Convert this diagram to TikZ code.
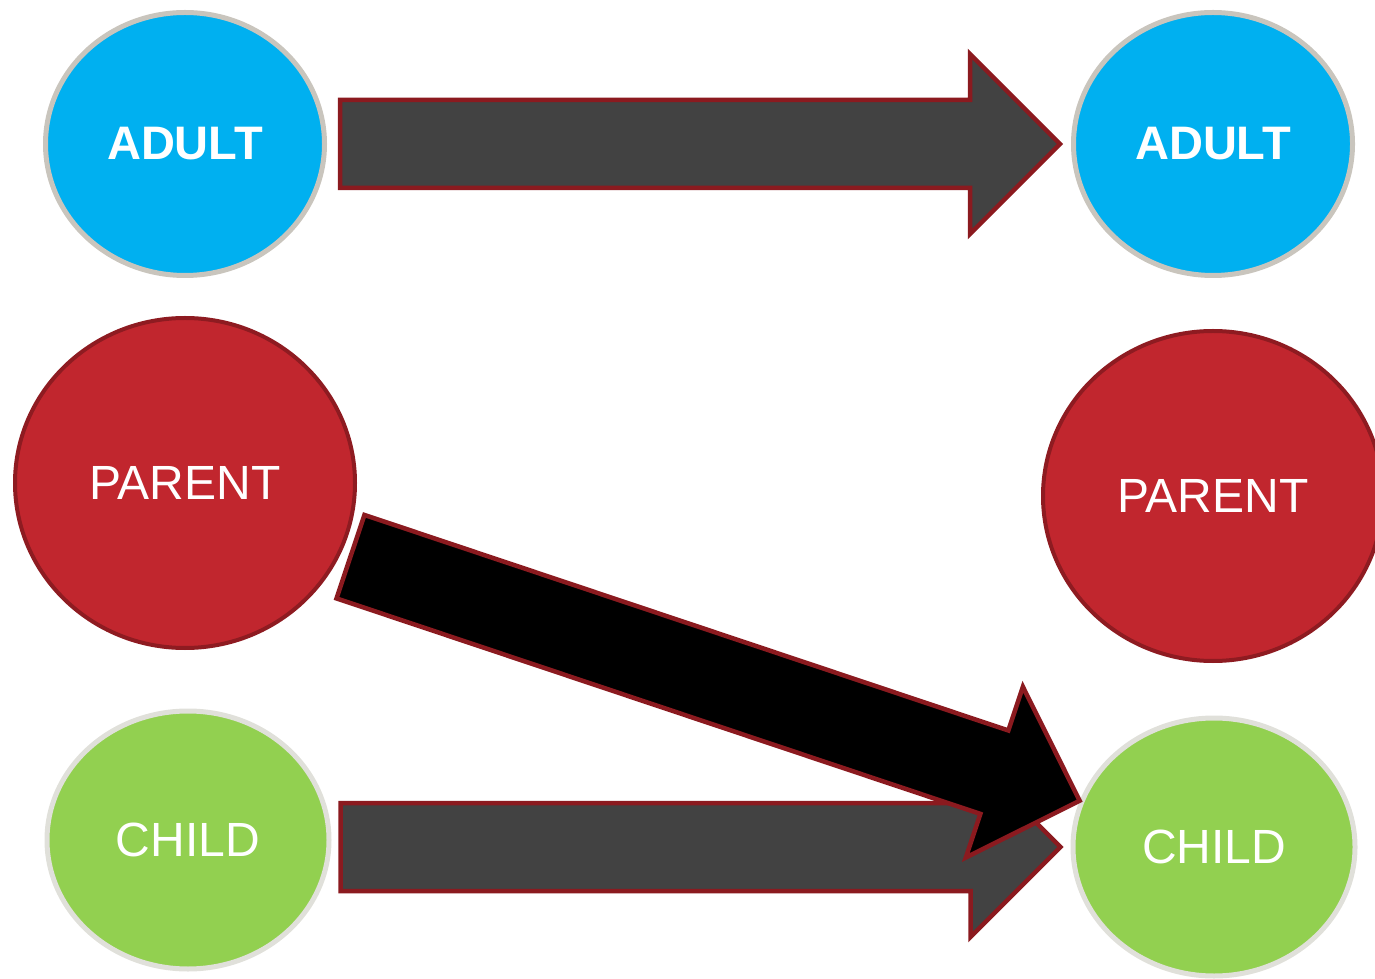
\documentclass[tikz,border=0pt]{standalone}
\usepackage{fontspec}
\setmainfont{Liberation Sans}
\usetikzlibrary{shapes.geometric,calc}

\definecolor{adultblue}{HTML}{00B0F0}
\definecolor{adultrim}{HTML}{C9C5BD}
\definecolor{parentred}{HTML}{C1262E}
\definecolor{parentrim}{HTML}{8E1B21}
\definecolor{childgreen}{HTML}{92D050}
\definecolor{childrim}{HTML}{E0E0DA}
\definecolor{shaftgray}{HTML}{424242}
\definecolor{arrowrim}{HTML}{8B1A1F}

\tikzset{
  person/.style={ellipse, inner sep=0pt, text=white},
  adult/.style={person, fill=adultblue, draw=adultrim, line width=5pt,
    minimum width=279pt, minimum height=263pt,
    font=\fontsize{47}{56}\selectfont\bfseries},
  parent/.style={person, fill=parentred, draw=parentrim, line width=4pt,
    minimum width=340pt, minimum height=330pt,
    font=\fontsize{48}{56}\selectfont},
  child/.style={person, fill=childgreen, draw=childrim, line width=5pt,
    minimum width=282pt, minimum height=258pt,
    font=\fontsize{48}{56}\selectfont},
  bigarrow/.style={draw=arrowrim, line width=4.5pt, line join=miter, fill=#1},
  bigarrow/.default=shaftgray
}

% block arrow from #2 to #3
\newcommand\blockarrow[3][]{%
  \coordinate (ba-s) at (#2);
  \coordinate (ba-e) at (#3);
  \coordinate (ba-b) at ($(ba-e)!90pt!(ba-s)$);
  \path[bigarrow,#1] ($(ba-s)!44pt!90:(ba-e)$) -- ($(ba-b)!44pt!-90:(ba-s)$)
    -- ($(ba-b)!90pt!-90:(ba-s)$) -- (ba-e) -- ($(ba-b)!90pt!90:(ba-s)$)
    -- ($(ba-b)!44pt!90:(ba-s)$) -- ($(ba-s)!44pt!-90:(ba-e)$) -- cycle;}

\begin{document}
\begin{tikzpicture}[x=1pt,y=1pt]
  \useasboundingbox (0,0) rectangle (1375,978);

  \node[adult]  (adultL)  at (185,834)  {ADULT};
  \node[adult]  (adultR)  at (1213,834) {ADULT};
  \node[parent] (parentL) at (185,495)  {PARENT};
  \node[parent] (parentR) at (1213,482) {PARENT};
  \node[child]  (childL)  at (188,138)  {CHILD};
  \node[child]  (childR)  at (1214,131) {CHILD};

  \blockarrow{$(adultL.east)+(13,0)$}{$(adultR.west)-(11,0)$}
  \blockarrow{$(childL.east|-childR)+(9,0)$}{$(childR.west)-(10,0)$}
  \blockarrow[bigarrow=black]{$(parentL.336)!-10pt!(parentL.center)$}{childR.161}
  %\draw (parentL) -- (childR);
\end{tikzpicture}
\end{document}
